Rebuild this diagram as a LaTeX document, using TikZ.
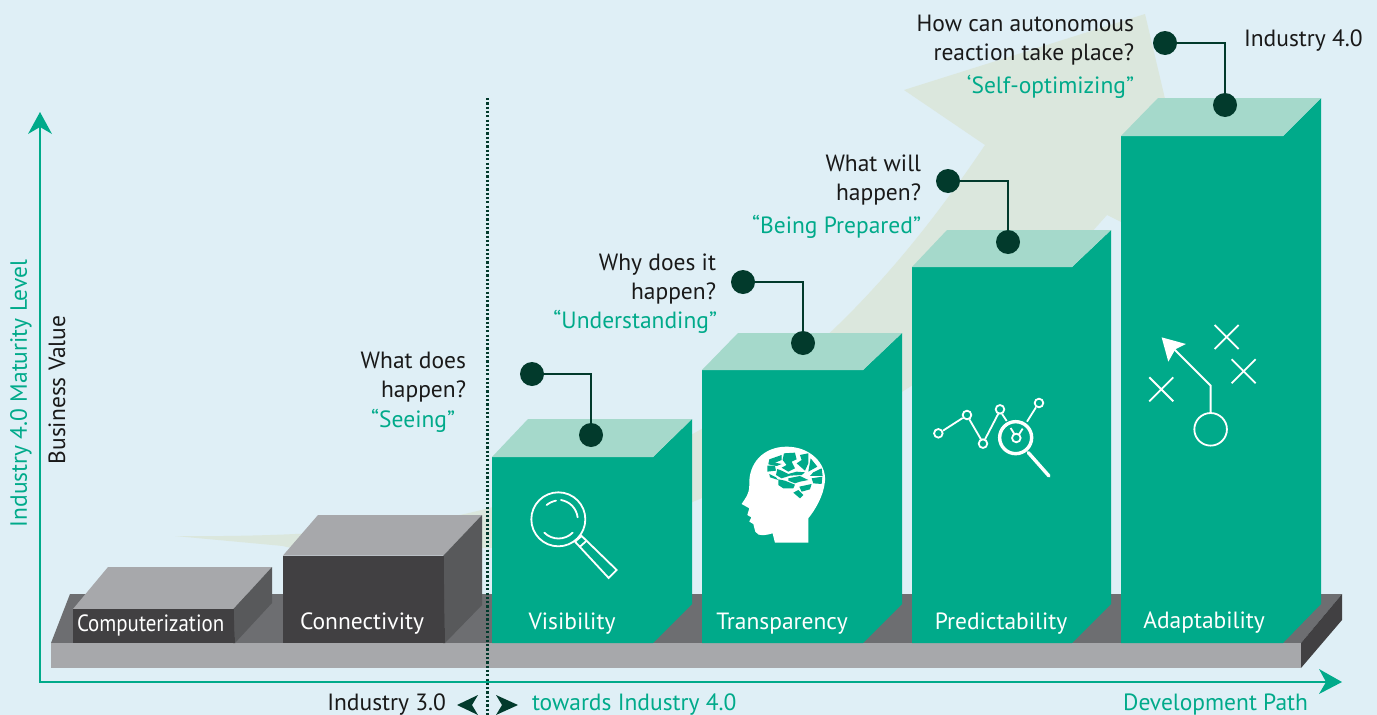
\documentclass[tikz,border=0pt]{standalone}
\usepackage{fontspec}
\setmainfont{PT Sans}
\definecolor{bgc}{HTML}{DFEFF6}
\definecolor{paleg}{HTML}{DBE7DD}
\definecolor{teal}{HTML}{00AA8A}
\definecolor{topg}{HTML}{A5D9CB}
\definecolor{darkg}{HTML}{023A2C}
\definecolor{gr1}{HTML}{A7A8AB}
\definecolor{gr2}{HTML}{6D6E71}
\definecolor{gr3}{HTML}{58595B}
\definecolor{gr4}{HTML}{414042}
\tikzset{
 txt/.style={inner sep=0pt,outer sep=0pt,font=\fontsize{23.5}{29}\selectfont,text=black!90},
 qtext/.style={txt,anchor=base east,align=right},
 gtext/.style={txt,anchor=base east,text=teal},
 lbl/.style={txt,anchor=base,text=white},
 dot/.style={circle,fill=darkg,inner sep=0pt,minimum size=24pt},
 link/.style={draw=darkg,line width=2.4pt},
 axis/.style={draw=teal,line width=2.2pt},
 ico/.style={draw=white,line width=1.8pt,fill=none},
}
\newcommand{\greenblock}[6]{% x0 x1 ytop yfront xtopleft xinner
 \fill[teal] (#1,#4) -- (#6,#4) -- (#2,#3) -- (#2,604) -- (#6,643) -- (#1,643) -- cycle;
 \fill[topg] (#1,#4) -- (#5,#3) -- (#2,#3) -- (#6,#4) -- cycle;
}
\begin{document}
\begin{tikzpicture}[x=1pt,y=-1pt]
\useasboundingbox (0,0) rectangle (1377,715);
\fill[bgc] (0,0) rectangle (1377,715);
% swoosh
\fill[paleg] (175,536) .. controls (280,537) and (400,532) .. (489,508)
  .. controls (640,470) and (800,420) .. (985,145)
  -- (904,90) -- (1145,14) -- (1170,120) -- (1125,224) -- (1107,215)
  .. controls (1040,290) and (960,380) .. (702,498)
  .. controls (640,525) and (560,548) .. (486,548)
  .. controls (400,552) and (300,552) .. (283,546) -- cycle;
% platform
\fill[gr2] (51,643) -- (70,594) -- (1342,594) -- (1301,643) -- cycle;
\fill[gr1] (51,643) rectangle (1301,668);
\fill[gr4] (1301,643) -- (1342,594) -- (1342,620) -- (1301,668) -- cycle;
% grey blocks
\fill[gr1] (73,609) -- (108,567) -- (272,567) -- (233.5,609) -- cycle;
\fill[gr3] (233.5,609) -- (272,567) -- (272,603) -- (235,643) -- cycle;
\fill[gr4] (73,609) rectangle (233.5,643);
\fill[gr4] (233,609) -- (233.5,609) -- (235,643) -- (233,643) -- cycle;
\fill[gr1] (283,555.5) -- (318,515) -- (482,515) -- (443.5,555.5) -- cycle;
\fill[gr3] (443.5,555.5) -- (482,515) -- (482,605) -- (445,643) -- cycle;
\fill[gr4] (283,555.5) rectangle (443.5,643);
\fill[gr4] (443,555.5) -- (443.5,555.5) -- (445,643) -- (443,643) -- cycle;
% green blocks
\greenblock{492}{692}{419}{457}{528}{653}
\greenblock{702}{902}{333}{370}{738}{863}
\greenblock{912}{1111}{230}{267}{947}{1072}
\greenblock{1121}{1321}{98}{136}{1158}{1283}
% axes
\coordinate (o) at (40,682);
\coordinate (ytip) at (40,126);
\coordinate (xtip) at (1327,682);
\draw[axis] (ytip) -- (o) -- (xtip);
\fill[teal] (40,112) -- (52,134) -- (40,127) -- (28,134) -- cycle;
\fill[teal] (1342,682) -- (1319,669) -- (1326,682) -- (1319,694) -- cycle;
% divider
\coordinate (dtop) at (487.5,98);
\coordinate (dbot) at (487.5,715);
\draw[darkg,line width=2.4pt,dash pattern=on 2.2pt off 2.1pt] (dtop) -- (dbot);
\fill[darkg] (457,705) -- (478,695) -- (472,705) -- (478,715) -- cycle;
\fill[darkg] (518,705) -- (496,695) -- (502,705) -- (496,715) -- cycle;
% callouts
\node[dot] (s1) at (532,374) {};
\node[dot] (e1) at (591,435) {};
\draw[link] (s1.center) -| (e1.center);
\node[dot] (s2) at (743,282) {};
\node[dot] (e2) at (803,343) {};
\draw[link] (s2.center) -| (e2.center);
\node[dot] (s3) at (948,181) {};
\node[dot] (e3) at (1008,242) {};
\draw[link] (s3.center) -| (e3.center);
\node[dot] (s4) at (1165,43) {};
\node[dot] (e4) at (1225,105) {};
\draw[link] (s4.center) -| (e4.center);
% texts
\node[qtext] (q1) at (466,397) {What does\\happen?};
\node[gtext] (g1) at (455,427) {“Seeing”};
\node[qtext] (q2) at (716,299) {Why does it\\happen?};
\node[gtext] (g2) at (717,328) {“Understanding”};
\node[qtext] (q3) at (921,200) {What will\\happen?};
\node[gtext] (g3) at (921,233) {“Being Prepared”};
\node[qtext] (q4) at (1134,60) {How can autonomous\\reaction take place?};
\node[gtext] (g4) at (1134,93) {‘Self-optimizing”};
\node[txt,anchor=base west] (i4) at (1244,46) {Industry 4.0};
\node[lbl,anchor=base west] (l1) at (77,631) {\scalebox{0.89}[1]{Computerization}};
\node[lbl] (l2) at (362,629) {Connectivity};
\node[lbl] (l3) at (572,629) {Visibility};
\node[lbl] (l4) at (782,629) {Transparency};
\node[lbl] (l5) at (1001,629) {Predictability};
\node[lbl] (l6) at (1204,628) {Adaptability};
\node[txt,anchor=base east] (i3) at (446,710) {Industry 3.0};
\node[txt,anchor=base west,text=teal] (t4) at (532,710) {towards Industry 4.0};
\node[txt,anchor=base east,text=teal] (dp) at (1308,710) {Development Path};
\node[txt,text=teal,rotate=90,anchor=base] (ym) at (27,393.5) {Industry 4.0 Maturity Level};
\node[txt,rotate=90,anchor=base] (bv) at (65,390) {Business Value};
% magnifier icon
\begin{scope}[shift={(480,400)},x=0.3333pt,y=-0.3333pt]
 \draw[ico] (235,358) circle[radius=27pt];
 \draw[ico,line cap=round] (200,315) to[bend left=12] (228,302);
 \draw[ico,line cap=round] (243,300) to[bend left=35] (293,352);
 \draw[ico,line cap=round] (193,398) to[bend right=45] (278,398);
 \draw[ico,line join=miter] (285,425) -- (305,408) -- (410,510) -- (386,534) -- cycle;
 \draw[ico] (300,440) -- (320,422);
\end{scope}
% head icon
\begin{scope}[shift={(480,400)},x=0.3333pt,y=-0.3333pt]
 \fill[white] (985,428) -- (885,428) -- (878,400) .. controls (860,405) and (835,412) .. (826,395)
  -- (820,372) -- (808,365) -- (814,352) -- (802,345) -- (808,325) -- (785,312)
  .. controls (795,295) and (808,285) .. (808,255)
  .. controls (805,190) and (850,140) .. (920,140)
  .. controls (990,140) and (1040,190) .. (1035,245)
  .. controls (1030,290) and (1005,330) .. (985,355) -- cycle;
 \fill[teal] (868,178) -- (905,165) -- (905,180) -- (885,188) -- (905,192) -- (890,198) -- (865,193) -- cycle;
 \fill[teal] (912,160) -- (945,158) -- (950,178) -- (935,185) -- (945,205) -- (925,215) -- (905,203) -- (920,195) -- (908,180) -- cycle;
 \fill[teal] (960,165) -- (985,160) -- (985,190) -- (975,212) -- (950,190) -- (965,180) -- cycle;
 \fill[teal] (992,175) -- (1012,200) -- (985,215) -- cycle;
 \fill[teal] (862,197) -- (885,197) -- (888,212) -- (862,215) -- cycle;
 \fill[teal] (892,207) -- (905,212) -- (925,222) -- (950,215) -- (975,217) -- (965,225) -- (930,227) -- (905,235) -- (888,225) -- cycle;
 \fill[teal] (1000,217) -- (1025,205) -- (1028,228) -- (990,228) -- cycle;
 \fill[teal] (995,235) -- (1027,230) -- (1025,252) -- (1000,250) -- cycle;
 \fill[teal] (925,235) -- (960,228) -- (985,240) -- (960,245) -- (945,250) -- (925,242) -- cycle;
 \fill[teal] (895,238) -- (915,242) -- (945,254) -- (940,265) -- (910,265) -- (895,255) -- cycle;
 \fill[teal] (958,260) -- (995,252) -- (990,268) -- (965,275) -- cycle;
 \fill[teal] (868,222) -- (888,232) -- (895,240) -- (870,232) -- cycle;
 \fill[teal] (940,278) -- (955,270) -- (970,285) -- (960,295) -- cycle;
\end{scope}
% chart icon
\begin{scope}[shift={(900,320)},x=0.3333pt,y=-0.3333pt]
 \foreach \p in {(115,340),(201,285),(249,371),(300,268),(417,249),(349,354)}
   \draw[ico] \p circle[radius=4.3pt];
 \draw[ico] (129,332) -- (188,294) (208,298) -- (243,358) (255,358) -- (295,281)
   (306,282) -- (320,303) (381,305) -- (408,262) (332,324) -- (343,342) (368,326) -- (357,343);
 \draw[ico,line width=3.4pt] (347,353) circle[radius=16pt];
 \draw[ico,line width=3.4pt,line cap=round] (385,398) -- (447,468);
\end{scope}
% play icon
\begin{scope}[shift={(900,320)},x=0.3333pt,y=-0.3333pt]
 \draw[ico] (932,328) circle[radius=16.3pt];
 \draw[ico] (932,278) -- (932,197) -- (815,80);
 \fill[white] (785,52) -- (858,72) -- (826,88) -- (805,125) -- cycle;
 \draw[ico] (944,15) -- (1016,87) (1016,15) -- (944,87);
 \draw[ico] (995,118) -- (1067,190) (1067,118) -- (995,190);
 \draw[ico] (748,172) -- (820,244) (820,172) -- (748,244);
\end{scope}
\end{tikzpicture}
\end{document}
